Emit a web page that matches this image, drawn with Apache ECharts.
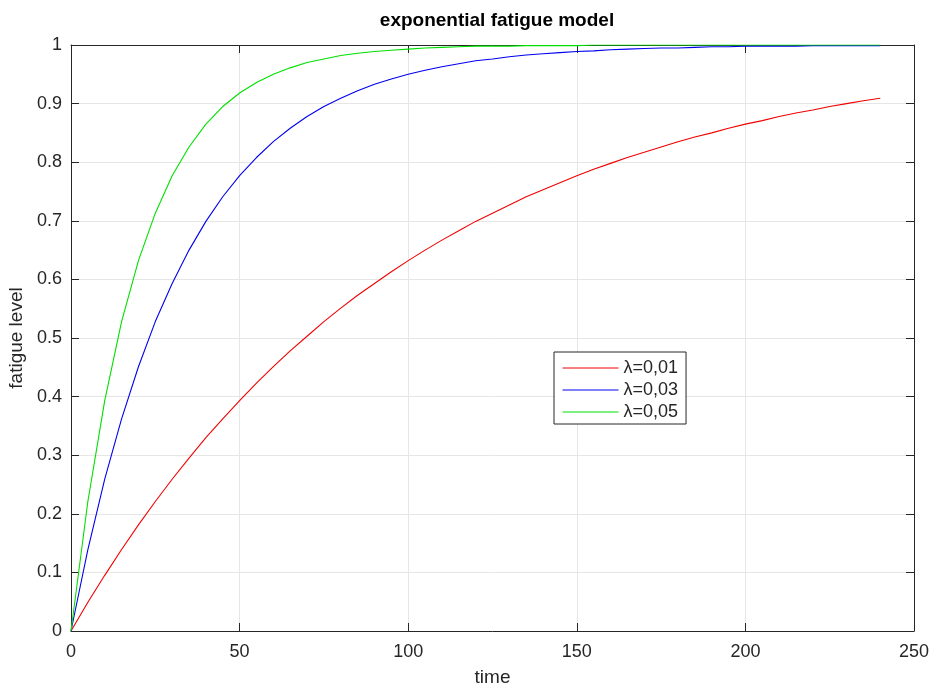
<!DOCTYPE html>
<html>
<head>
<meta charset="utf-8">
<script src="https://cdn.jsdelivr.net/npm/echarts@6/dist/echarts.min.js"></script>
<style>
  html, body { margin: 0; padding: 0; background: #fff; }
  #chart { width: 932px; height: 686px; }
</style>
</head>
<body>
<div id="chart"></div>
<script>
// time samples (every 5 units, 0..240)
const times = [0, 5, 10, 15, 20, 25, 30, 35, 40, 45, 50, 55, 60, 65, 70, 75, 80, 85, 90, 95,
  100, 105, 110, 115, 120, 125, 130, 135, 140, 145, 150, 155, 160, 165, 170, 175, 180, 185, 190, 195,
  200, 205, 210, 215, 220, 225, 230, 235, 240];

// fatigue level
const fatigue001 = [0, 0.049, 0.095, 0.139, 0.181, 0.221, 0.259, 0.295, 0.330, 0.362, 0.393, 0.423, 0.451, 0.478, 0.503, 0.528, 0.551, 0.573, 0.593, 0.613,
  0.632, 0.650, 0.667, 0.683, 0.699, 0.713, 0.727, 0.741, 0.753, 0.765, 0.777, 0.788, 0.798, 0.808, 0.817, 0.826, 0.835, 0.843, 0.850, 0.858,
  0.865, 0.871, 0.878, 0.884, 0.889, 0.895, 0.900, 0.905, 0.909];
const fatigue003 = [0, 0.139, 0.259, 0.362, 0.451, 0.528, 0.593, 0.650, 0.699, 0.741, 0.777, 0.808, 0.835, 0.858, 0.878, 0.895, 0.909, 0.922, 0.933, 0.942,
  0.950, 0.957, 0.963, 0.968, 0.973, 0.976, 0.980, 0.983, 0.985, 0.987, 0.989, 0.990, 0.992, 0.993, 0.994, 0.995, 0.995, 0.996, 0.997, 0.997,
  0.998, 0.998, 0.998, 0.998, 0.999, 0.999, 0.999, 0.999, 0.999];
const fatigue005 = [0, 0.221, 0.393, 0.528, 0.632, 0.713, 0.777, 0.826, 0.865, 0.895, 0.918, 0.936, 0.950, 0.961, 0.970, 0.976, 0.982, 0.986, 0.989, 0.991,
  0.993, 0.995, 0.996, 0.997, 0.998, 0.998, 0.998, 0.999, 0.999, 0.999, 0.999, 1.000, 1.000, 1.000, 1.000, 1.000, 1.000, 1.000, 1.000, 1.000,
  1.000, 1.000, 1.000, 1.000, 1.000, 1.000, 1.000, 1.000, 1.000];

const seriesNames = ['λ=0,01', 'λ=0,03', 'λ=0,05'];
const seriesColors = ['#f00000', '#0000f0', '#00e000'];
const seriesValues = [fatigue001, fatigue003, fatigue005];

const FONT = 'Liberation Sans, Arial, sans-serif';
const INK = '#262626';

const chart = echarts.init(document.getElementById('chart'));

const baseAxis = {
  axisLine: { show: true, onZero: false, lineStyle: { color: INK, width: 1 } },
  axisTick: { show: true, inside: true, length: 8, lineStyle: { color: INK } },
  axisLabel: { color: INK, fontFamily: FONT, fontSize: 18 },
  nameTextStyle: { color: INK, fontFamily: FONT, fontSize: 19 }
};

chart.setOption({
  animation: false,
  backgroundColor: '#fff',
  title: {
    text: 'exponential fatigue model',
    left: 492, top: 6, textAlign: 'center',
    textStyle: { color: '#000', fontFamily: FONT, fontSize: 19, fontWeight: 'bold' }
  },
  grid: { left: 71, right: 18, top: 45, bottom: 55, outerBoundsMode: 'none', containLabel: false },
  legend: {
    orient: 'vertical',
    left: 554, top: 352,
    padding: [7, 8, 3, 8],
    itemWidth: 56, itemHeight: 14, itemGap: 4,
    backgroundColor: '#fff',
    borderColor: INK, borderWidth: 1, borderRadius: 0,
    itemStyle: { opacity: 0 },
    lineStyle: { width: 1 },
    textStyle: { color: INK, fontFamily: FONT, fontSize: 18 },
    data: seriesNames
  },
  xAxis: [
    Object.assign({}, baseAxis, {
      type: 'value', min: 0, max: 250, interval: 50,
      name: 'time', nameLocation: 'middle', nameGap: 37,
      axisLabel: Object.assign({}, baseAxis.axisLabel, { margin: 12 }),
      splitLine: { show: true, lineStyle: { color: '#e6e6e6' } }
    }),
    Object.assign({}, baseAxis, {
      type: 'value', min: 0, max: 250, interval: 50, position: 'top',
      axisLabel: { show: false }, splitLine: { show: false }
    })
  ],
  yAxis: [
    Object.assign({}, baseAxis, {
      type: 'value', min: 0, max: 1, interval: 0.1,
      name: 'fatigue level', nameLocation: 'middle', nameGap: 44,
      axisLabel: Object.assign({}, baseAxis.axisLabel, { margin: 9 }),
      splitLine: { show: true, lineStyle: { color: '#e6e6e6' } }
    }),
    Object.assign({}, baseAxis, {
      type: 'value', min: 0, max: 1, interval: 0.1, position: 'right',
      axisLabel: { show: false }, splitLine: { show: false }
    })
  ],
  series: seriesNames.map((name, i) => ({
    name: name,
    type: 'line',
    symbol: 'none',
    color: seriesColors[i],
    lineStyle: { width: 1.1, color: seriesColors[i] },
    data: times.map((t, j) => [t, seriesValues[i][j]])
  }))
});
</script>
</body>
</html>
